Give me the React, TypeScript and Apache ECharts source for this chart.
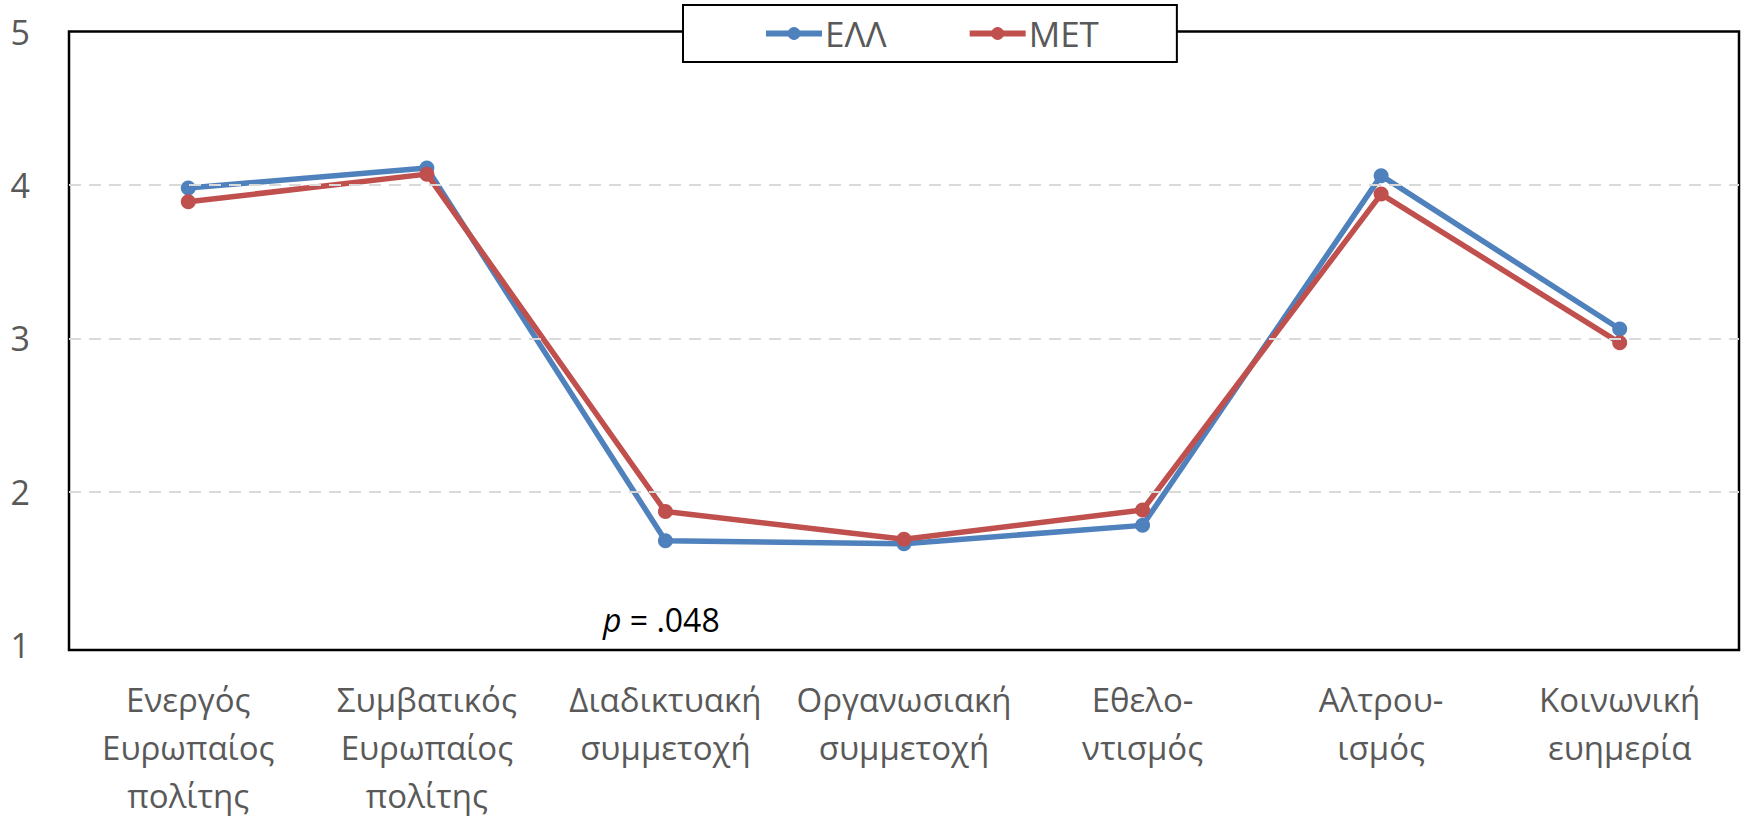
import React, { useEffect, useRef } from "react";
import * as echarts from "echarts";

const categories = [
  "Ενεργός\nΕυρωπαίος\nπολίτης",
  "Συμβατικός\nΕυρωπαίος\nπολίτης",
  "Διαδικτυακή\nσυμμετοχή",
  "Οργανωσιακή\nσυμμετοχή",
  "Εθελο-\nντισμός",
  "Αλτρου-\nισμός",
  "Κοινωνική\nευημερία",
];
const ellValues = [3.98, 4.11, 1.68, 1.66, 1.78, 4.06, 3.06];
const metValues = [3.89, 4.07, 1.87, 1.69, 1.88, 3.94, 2.97];
const seriesNames = ["ΕΛΛ", "MET"];
const gridLevels = [2, 3, 4];
const annotation = "p = .048";

const FONT = "'Open Sans', 'Noto Sans', sans-serif";

export default function App() {
  const ref = useRef<HTMLDivElement>(null);
  useEffect(() => {
    if (!ref.current) return;
    const chart = echarts.init(ref.current, null, { renderer: "svg" });
    const gl = 69, gt = 31.5, gr = 1739, gb = 650;
    chart.setOption({
      animation: false,
      backgroundColor: "#fff",
      grid: { left: gl, top: gt, width: gr - gl, height: gb - gt, show: false },
      legend: {
        data: seriesNames,
        left: 683,
        top: 5,
        z: 10,
        backgroundColor: "#fff",
        borderColor: "#000",
        borderWidth: 2,
        padding: [11, 78, 11, 80],
        itemGap: 80,
        itemWidth: 56,
        itemHeight: 16,
        lineStyle: { width: 6 },
        textStyle: { fontSize: 35, color: "#595959", fontFamily: FONT, padding: [0, 0, 0, -2] },
      },
      xAxis: {
        type: "category",
        data: categories,
        boundaryGap: true,
        axisLine: { show: false },
        axisTick: { show: false },
        axisLabel: {
          interval: 0,
          margin: 30,
          fontSize: 33,
          lineHeight: 48,
          color: "#595959",
          fontFamily: FONT,
          verticalAlign: "top",
        },
      },
      yAxis: {
        type: "value",
        min: 1,
        max: 5,
        interval: 1,
        axisLine: { show: false },
        axisTick: { show: false },
        splitLine: { show: false },
        axisLabel: { margin: 39, fontSize: 34, color: "#595959", fontFamily: FONT },
      },
      graphic: [
        {
          type: "rect",
          z: 5,
          shape: { x: gl, y: gt, width: gr - gl, height: gb - gt },
          style: { fill: "none", stroke: "#000", lineWidth: 2.5 },
          silent: true,
        },
        {
          type: "text",
          z: 5,
          left: 603,
          top: 603,
          style: {
            text: "{i|p}{n|" + annotation.slice(1) + "}",
            rich: {
              i: { fontStyle: "italic", fontSize: 32, fill: "#000", fontFamily: FONT },
              n: { fontSize: 32, fill: "#000", fontFamily: FONT },
            },
          },
        },
      ],
      series: [
        {
          name: "grid",
          type: "line",
          data: [],
          silent: true,
          z: 1,
          markLine: {
            silent: true,
            symbol: "none",
            label: { show: false },
            lineStyle: { color: "#d9d9d9", type: [12, 8], width: 2 },
            data: gridLevels.map((v) => ({ yAxis: v })),
          },
        },
        {
          name: seriesNames[0],
          type: "line",
          data: ellValues,
          z: 3,
          symbol: "circle",
          symbolSize: 15,
          color: "#4f81bd",
          lineStyle: { width: 5.5, color: "#4f81bd" },
          itemStyle: { color: "#4f81bd" },
        },
        {
          name: seriesNames[1],
          type: "line",
          data: metValues,
          z: 3,
          symbol: "circle",
          symbolSize: 15,
          color: "#c0504d",
          lineStyle: { width: 5.5, color: "#c0504d" },
          itemStyle: { color: "#c0504d" },
        },
      ],
    });
    return () => chart.dispose();
  }, []);
  return (
    <div
      ref={ref}
      style={{ position: "fixed", left: 0, top: 0, width: 1746, height: 819 }}
    />
  );
}
